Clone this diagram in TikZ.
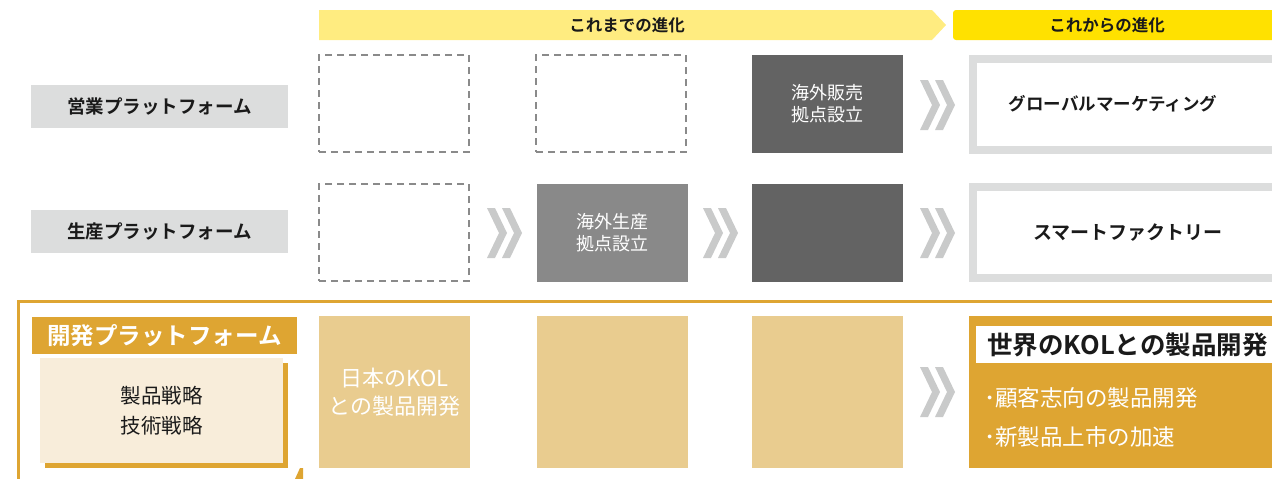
\documentclass[tikz,border=0pt]{standalone}
\usepackage{fontspec}
\setmainfont{Noto Sans CJK JP}[BoldFont={* Bold}]
\definecolor{goldD}{HTML}{DEA532}
\definecolor{goldL}{HTML}{E9CC8F}
\definecolor{cream}{HTML}{F8EDDA}
\definecolor{lgray}{HTML}{DCDDDD}
\definecolor{dgray}{HTML}{636363}
\definecolor{mgray}{HTML}{898989}
\definecolor{chevc}{HTML}{C9CACA}
\definecolor{dashc}{HTML}{8A8A8A}
\definecolor{yelL}{HTML}{FFEC80}
\definecolor{yelD}{HTML}{FFE100}
\definecolor{txt}{HTML}{1A1A1A}
\tikzset{
  blk/.style={anchor=north west, inner sep=0pt, outer sep=0pt, align=center},
  rowlabel/.style={blk, fill=lgray, minimum width=257pt, minimum height=43pt, font=\fontsize{18.5}{22}\selectfont\bfseries, text=txt},
  dashbox/.style={anchor=north west, inner sep=0pt, outer sep=0pt, draw=dashc, line width=1.2pt, dash pattern=on 7pt off 5pt, minimum width=150pt, minimum height=97pt},
  greybox/.style={blk, minimum width=151pt, minimum height=98pt, text=white, font=\fontsize{18}{22}\selectfont},
  futbox/.style={anchor=north west, inner sep=0pt, outer sep=0pt, draw=lgray, line width=8pt, minimum width=312pt, minimum height=91pt},
  goldbox/.style={blk, fill=goldL, minimum width=151pt, minimum height=152pt, text=white, font=\fontsize{22}{28}\selectfont},
  dchev/.pic={
    \fill[chevc] (-17,-25) -- (-9,-25) -- (3,0) -- (-9,25) -- (-17,25) -- (-5,0) -- cycle;
    \fill[chevc] (-2,-25) -- (6,-25) -- (18,0) -- (6,25) -- (-2,25) -- (10,0) -- cycle;
  }
}
\begin{document}
\begin{tikzpicture}[x=1pt,y=-1pt]
\useasboundingbox (0,0) rectangle (1272,479);
\clip (0,0) rectangle (1272,479);
% banners
\fill[yelL] (319,10) -- (932,10) -- (946,25) -- (932,40) -- (319,40) -- cycle;
\node[font=\fontsize{16.5}{18}\selectfont\bfseries, text=txt] (pastlbl) at (627,25) {これまでの進化};
\fill[yelD, rounded corners=3pt] (953,10) rectangle (1290,40);
\node[font=\fontsize{16.5}{18}\selectfont\bfseries, text=txt] (futlbl) at (1107,25) {これからの進化};
% row labels
\node[rowlabel] (sales) at (31,85) {営業プラットフォーム};
\node[rowlabel] (prod) at (31,210) {生産プラットフォーム};
% row 1
\node[dashbox] (s1) at (319,55) {};
\node[dashbox] (s2) at (536,55) {};
\node[greybox, fill=dgray] (s3) at (752,55) {海外販売\\拠点設立};
\node[futbox] (s4) at (973,59) {};
\node[font=\fontsize{17.5}{20}\selectfont\bfseries, text=txt] (s4t) at (1113,104) {グローバルマーケティング};
% row 2
\node[dashbox] (p1) at (319,184) {};
\node[greybox, fill=mgray] (p2) at (537,184) {海外生産\\拠点設立};
\node[greybox, fill=dgray] (p3) at (752,184) {};
\node[futbox] (p4) at (973,187) {};
\node[font=\fontsize{19}{22}\selectfont\bfseries, text=txt] (p4t) at (1128,233) {スマートファクトリー};
% chevrons
\pic at (937,105) {dchev};
\pic at (504,233) {dchev};
\pic at (720,233) {dchev};
\pic at (937,233) {dchev};
\pic at (937,392) {dchev};
% development frame
\draw[goldD, line width=3pt] (18.5,301.5) rectangle (1300,520);
\fill[goldD] (295,479) -- (300,468) -- (303,468) -- (303,479) -- cycle;
\node[blk, fill=goldD, minimum width=265pt, minimum height=37pt, text=white, font=\fontsize{23.5}{26}\selectfont\bfseries] (devlbl) at (32,317) {開発プラットフォーム};
\fill[goldD] (45,363) rectangle (288,468);
\node[blk, fill=cream, minimum width=243pt, minimum height=105pt, text=txt, font=\fontsize{20.5}{30}\selectfont] (strat) at (40,358) {製品戦略\\技術戦略};
\node[goldbox] (d1) at (319,316) {日本のKOL\\との製品開発};
\node[goldbox] (d2) at (537,316) {};
\node[goldbox] (d3) at (752,316) {};
\node[blk, fill=goldD, minimum width=320pt, minimum height=152pt] (d4) at (969,316) {};
\node[blk, fill=white, minimum width=310pt, minimum height=37pt] (d4h) at (976,326) {};
\node[anchor=west, inner sep=0pt, text=txt, font=\fontsize{25.5}{28}\selectfont\bfseries] (d4t) at (987,345) {世界のKOLとの製品開発};
\node[anchor=west, inner sep=0pt, text=white, font=\fontsize{22.5}{24}\selectfont] (b1) at (984,398) {･顧客志向の製品開発};
\node[anchor=west, inner sep=0pt, text=white, font=\fontsize{22.5}{24}\selectfont] (b2) at (984,437) {･新製品上市の加速};
\end{tikzpicture}
\end{document}
